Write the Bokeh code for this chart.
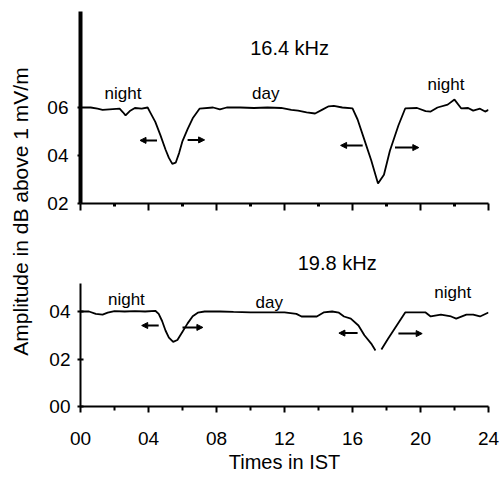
import math
from bokeh.plotting import figure
from bokeh.layouts import row, column
from bokeh.models import Range1d, FixedTicker, Label, ColumnDataSource, Arrow, NormalHead, LinearAxis
from bokeh.embed import file_html
from bokeh.resources import INLINE

nan = float("nan")

# ---- 16.4 kHz signal (hours IST, amplitude in axis units) ----
hours_164 = [0.0, 0.6, 1.0, 1.3, 1.9, 2.3, 2.5, 2.65, 2.9, 3.2,
             3.6, 3.95, 4.1, 4.4, 4.7, 5.0, 5.2, 5.4, 5.6, 5.8,
             6.0, 6.3, 6.6, 7.0, 7.8, 8.2, 8.6, 9.4, 10.2, 11.0,
             11.8, 12.4, 12.8, 13.3, 13.8, 14.2, 14.6, 14.9, 15.4, 16.0,
             16.3, 16.7, 17.1, 17.5, 17.85, 18.2, 18.7, 19.1, 19.8, 20.3,
             20.6, 21.0, 21.6, 22.0, 22.4, 22.8, 23.1, 23.5, 23.8, 24.0]
amp_164 = [6.0, 6.0, 5.95, 5.9, 5.93, 5.95, 5.8, 5.67, 5.85, 5.98,
           5.95, 6.0, 5.8, 5.4, 4.85, 4.25, 3.9, 3.65, 3.7, 4.1,
           4.6, 5.1, 5.55, 5.95, 6.0, 5.92, 6.0, 6.0, 5.98, 6.0,
           5.98, 5.9, 5.87, 5.8, 5.75, 5.9, 6.05, 6.07, 6.0, 5.96,
           5.5, 4.65, 3.8, 2.83, 3.2, 4.2, 5.25, 5.96, 5.98, 5.85,
           5.83, 6.0, 6.12, 6.33, 5.96, 5.98, 5.87, 5.95, 5.83, 5.9]

# ---- 19.8 kHz signal ----
hours_198 = [0.0, 0.5, 0.9, 1.3, 1.6, 2.0, 2.6, 3.2, 3.8, 4.4,
             4.6, 4.8, 5.0, 5.2, 5.45, 5.7, 6.0, 6.3, 6.6, 6.9,
             7.3, 8.2, 9.0, 10.0, 11.0, 12.0, 12.7, 13.0, 13.9, 14.3,
             14.8, 15.2, 15.5, 15.9, 16.35, 16.7, 17.1, 17.35, nan, 17.7,
             18.1, 18.6, 19.1, 19.7, 20.3, 20.6, 21.2, 21.8, 22.1, 22.7,
             23.1, 23.5, 24.0]
amp_198 = [4.0, 4.0, 3.9, 3.87, 3.95, 4.02, 4.0, 4.02, 4.0, 4.03,
           3.9, 3.6, 3.2, 2.9, 2.72, 2.8, 3.15, 3.5, 3.8, 3.95,
           4.0, 4.0, 3.98, 3.96, 3.96, 3.96, 3.9, 3.79, 3.79, 3.96,
           4.0, 3.95, 3.79, 3.7, 3.41, 3.0, 2.65, 2.36, nan, 2.4,
           2.86, 3.41, 3.96, 3.96, 3.96, 3.79, 3.87, 3.79, 3.7, 3.87,
           3.87, 3.79, 3.96]

# ---- terminator-time arrows (tail -> head) ----
arr164_tail = [4.5, 6.3, 16.6, 18.5]
arr164_head = [3.5, 7.3, 15.3, 19.9]
arr164_level = [4.63, 4.65, 4.42, 4.33]
arr198_tail = [4.6, 6.0, 16.3, 18.7]
arr198_head = [3.6, 7.2, 15.2, 20.1]
arr198_level = [3.41, 3.33, 3.09, 3.07]

# ---- ticks ----
x_ticks = [0, 4, 8, 12, 16, 20, 24]
x_tick_labels = ["00", "04", "08", "12", "16", "20", "24"]
x_minor = [2, 6, 10, 14, 18, 22]
y_ticks_top = [2, 4, 6]
y_tick_labels_top = ["02", "04", "06"]
y_ticks_bot = [0, 2, 4]
y_tick_labels_bot = ["00", "02", "04"]

FONT = "Liberation Sans"


def style_axis(ax):
    ax.major_label_text_font = FONT
    ax.major_label_text_font_size = "19px"
    ax.major_label_text_color = "black"
    ax.axis_line_color = "black"
    ax.major_tick_line_color = "black"
    ax.minor_tick_line_color = "black"
    ax.major_tick_in = 0
    ax.minor_tick_in = 0


def base_fig(w, h, yr, ml, mr, mt, mb, with_x=True):
    p = figure(width=w, height=h, x_range=Range1d(0, 24), y_range=yr,
               output_backend="svg", toolbar_location=None,
               x_axis_location="below" if with_x else None,
               min_border_left=ml, min_border_right=mr,
               min_border_top=mt, min_border_bottom=mb)
    p.xgrid.visible = False
    p.ygrid.visible = False
    p.outline_line_color = None
    p.background_fill_color = "white"
    p.border_fill_color = "white"
    for ax in p.xaxis + p.yaxis:
        style_axis(ax)
    return p


def add_label(p, x, y, txt, size):
    p.add_layout(Label(x=x, y=y, text=txt, text_font=FONT, text_font_size=size,
                       text_align="center", text_baseline="middle", text_color="black"))


def add_arrows(p, tail, head, level):
    src = ColumnDataSource(dict(x0=tail, x1=head, y=level))
    p.add_layout(Arrow(source=src, x_start="x0", x_end="x1", y_start="y", y_end="y",
                       line_width=2, line_color="black",
                       end=NormalHead(size=6, fill_color="black", line_color="black")))


# ---------- top panel ----------
top = base_fig(460, 240, Range1d(2, 10), 40, 7, 11, 37, with_x=False)
top.line(hours_164, amp_164, line_color="black", line_width=1.8)
add_arrows(top, arr164_tail, arr164_head, arr164_level)
top.yaxis.ticker = FixedTicker(ticks=y_ticks_top)
top.yaxis.major_label_overrides = dict(zip(y_ticks_top, y_tick_labels_top))
top.yaxis.axis_line_width = 4
top.yaxis.major_tick_out = 3
top.yaxis.major_tick_line_width = 2
top.yaxis.major_label_standoff = 9
top.yaxis.minor_tick_line_color = None
xa_top = LinearAxis(ticker=FixedTicker(ticks=x_ticks, minor_ticks=x_minor),
                    major_label_overrides={t: "" for t in x_ticks},
                    major_label_standoff=0,
                    axis_line_width=2, axis_line_color="black",
                    major_tick_in=0, minor_tick_in=0,
                    major_tick_out=7, minor_tick_out=3,
                    major_tick_line_width=2, minor_tick_line_width=3,
                    major_tick_line_color="black", minor_tick_line_color="black")
top.add_layout(xa_top, "below")
add_label(top, 12.3, 8.46, "16.4 kHz", "20px")
add_label(top, 2.5, 6.58, "night", "17px")
add_label(top, 10.9, 6.58, "day", "17px")
add_label(top, 21.5, 6.96, "night", "17px")

# ---------- bottom panel ----------
bot = base_fig(460, 237, Range1d(0, 161 / 23.75), 37, 12, 5, 71)
bot.line(hours_198, amp_198, line_color="black", line_width=1.8)
add_arrows(bot, arr198_tail, arr198_head, arr198_level)
bot.yaxis.ticker = FixedTicker(ticks=y_ticks_bot)
bot.yaxis.major_label_overrides = dict(zip(y_ticks_bot, y_tick_labels_bot))
bot.yaxis.bounds = (0, 5.2)
bot.yaxis.axis_line_width = 2
bot.yaxis.major_tick_out = 3
bot.yaxis.major_tick_in = 3
bot.yaxis.major_tick_line_width = 2
bot.yaxis.major_label_standoff = 7
bot.yaxis.minor_tick_line_color = None
bot.xaxis.ticker = FixedTicker(ticks=x_ticks, minor_ticks=x_minor)
bot.xaxis.major_label_overrides = dict(zip(x_ticks, x_tick_labels))
bot.xaxis.axis_line_width = 2
bot.xaxis.major_tick_out = 6
bot.xaxis.minor_tick_out = 4
bot.xaxis.major_tick_line_width = 2
bot.xaxis.minor_tick_line_width = 2
bot.xaxis.major_label_standoff = 19
bot.xaxis.axis_label = "Times in IST"
bot.xaxis.axis_label_text_font = FONT
bot.xaxis.axis_label_text_font_size = "20px"
bot.xaxis.axis_label_text_font_style = "normal"
bot.xaxis.axis_label_text_color = "black"
bot.xaxis.axis_label_standoff = 3
add_label(bot, 15.1, 6.06, "19.8 kHz", "20px")
add_label(bot, 2.7, 4.5, "night", "17px")
add_label(bot, 11.1, 4.38, "day", "17px")
add_label(bot, 21.9, 4.8, "night", "17px")

# ---------- shared y-axis title ----------
ttl = figure(width=40, height=477, x_range=Range1d(0, 40), y_range=Range1d(0, 477),
             output_backend="svg", toolbar_location=None,
             x_axis_type=None, y_axis_type=None,
             min_border_left=0, min_border_right=0, min_border_top=0, min_border_bottom=0)
ttl.xgrid.visible = False
ttl.ygrid.visible = False
ttl.outline_line_color = None
ttl.add_layout(Label(x=20, y=266, text="Amplitude in dB above 1 mV/m", angle=math.pi / 2,
                     text_font=FONT, text_font_size="21px", text_align="center",
                     text_baseline="middle", text_color="black"))

layout = row(ttl, column(top, bot))
open("out.html", "w").write(file_html(layout, INLINE))
